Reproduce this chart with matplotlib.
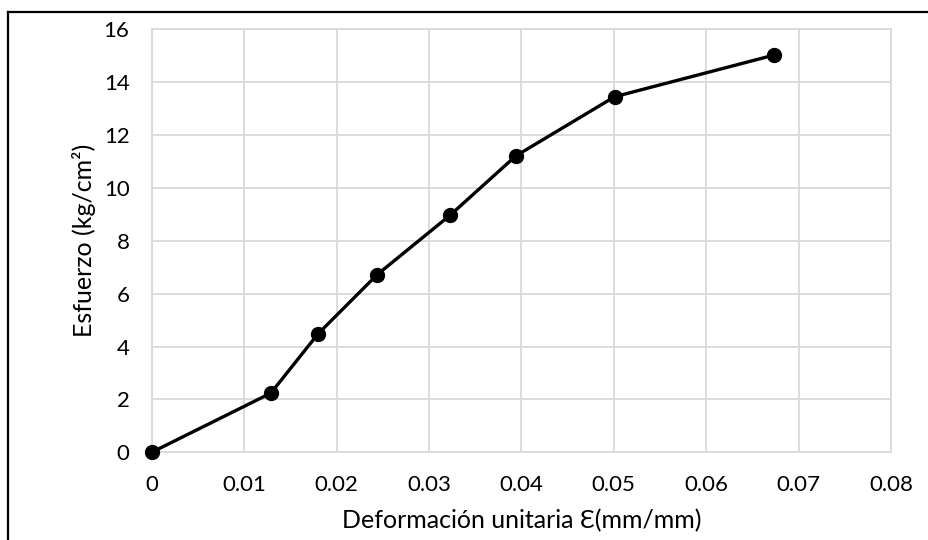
import matplotlib
matplotlib.use("Agg")
import matplotlib.pyplot as plt
from matplotlib.lines import Line2D

plt.rcParams['font.family'] = ['Lato', 'DejaVu Sans']

# Stress–strain data
deformacion = [0.0, 0.0129, 0.0180, 0.0244, 0.0323, 0.0394, 0.0501, 0.0674]
esfuerzo = [0.0, 2.24, 4.48, 6.72, 8.97, 11.21, 13.45, 15.03]

x_ticks = [0, 0.01, 0.02, 0.03, 0.04, 0.05, 0.06, 0.07, 0.08]
x_tick_labels = ['0', '0.01', '0.02', '0.03', '0.04', '0.05', '0.06', '0.07', '0.08']
y_ticks = [0, 2, 4, 6, 8, 10, 12, 14, 16]

grid_color = '#d9d9d9'

fig = plt.figure(figsize=(9.29, 5.40), dpi=100)
ax = fig.add_axes([0.1633, 0.1624, 0.7957, 0.7833])

ax.plot(deformacion, esfuerzo, color='black', linewidth=2.4,
        marker='o', markersize=10, zorder=3, clip_on=False)

ax.set_xlim(0, 0.08)
ax.set_ylim(0, 16)
ax.set_xticks(x_ticks)
ax.set_xticklabels(x_tick_labels)
ax.set_yticks(y_ticks)

ax.grid(True, color=grid_color, linewidth=1.3)
ax.set_axisbelow(True)
for spine in ax.spines.values():
    spine.set_color(grid_color)
    spine.set_linewidth(1.3)

ax.tick_params(axis='both', length=0, labelsize=16, colors='black')
ax.tick_params(axis='x', pad=16)
ax.tick_params(axis='y', pad=16)

ax.set_xlabel('Deformación unitaria Ɛ(mm/mm)', fontsize=18)
ax.set_ylabel('Esfuerzo (kg/cm²)', fontsize=18)
# label positions in axes coordinates
ax.xaxis.set_label_coords(0.5, -76 / 423, transform=ax.transAxes)
ax.yaxis.set_label_coords(-68 / 739, 0.5, transform=ax.transAxes)
ax.xaxis.label.set_va('baseline')
ax.yaxis.label.set_va('center')

# Chart-area frame (left and top edges)
fig.add_artist(Line2D([8 / 929, 8 / 929], [0, 1 - 12 / 540],
                      transform=fig.transFigure, color='black', linewidth=1.6))
fig.add_artist(Line2D([8 / 929, 1], [1 - 12 / 540, 1 - 12 / 540],
                      transform=fig.transFigure, color='black', linewidth=1.6))

fig.savefig('out.png', dpi=100)
